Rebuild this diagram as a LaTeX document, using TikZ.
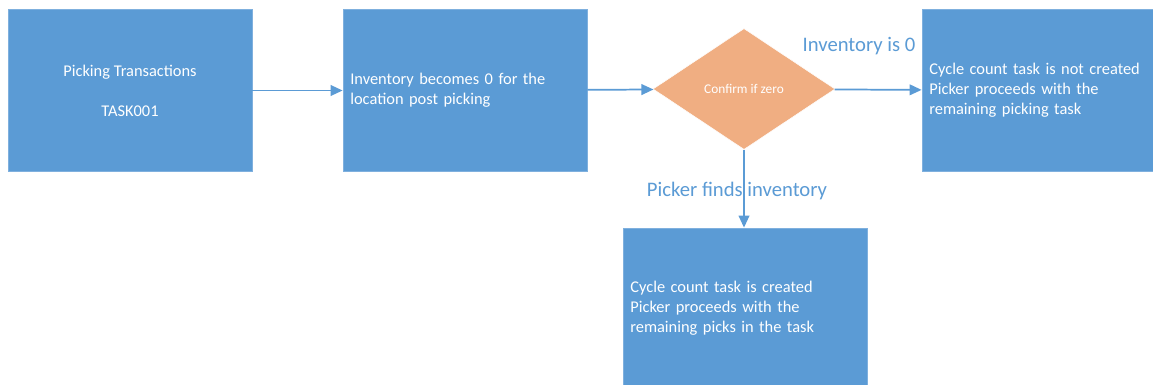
\documentclass[tikz,border=0pt]{standalone}
\usepackage{fontspec}
\setmainfont{Carlito}
\usepackage{xcolor}
\usetikzlibrary{positioning,arrows.meta,shapes.geometric}
\definecolor{boxblue}{HTML}{5B9BD5}
\definecolor{boxedge}{HTML}{7FB0DE}
\definecolor{decisionorange}{HTML}{F0AE82}
\definecolor{flowblue}{HTML}{5B9BD5}

\tikzset{
  taskbox/.style={draw=boxedge,line width=0.6pt,fill=boxblue,text=white,
    minimum width=183pt,minimum height=122pt,inner sep=5pt,font=\fontsize{12.3}{15}\selectfont},
  decision/.style={diamond,draw=white,fill=decisionorange,text=white,inner sep=0pt,
    minimum width=136.5pt,minimum height=90.75pt,font=\fontsize{10}{12}\selectfont},
  flow/.style={draw=flowblue,line width=1.3pt,-{Triangle[length=9pt,width=8pt]}},
  branchlabel/.style={text=flowblue,inner sep=0pt,font=\fontsize{15.5}{18}\selectfont}
}

\begin{document}
\begin{tikzpicture}[x=0.75pt,y=-0.75pt]
\useasboundingbox (0,0) rectangle (1153,385);
\fill[white] (0,0) rectangle (1153,385);

\node[taskbox,align=center] (pick) at (130,90.5) {Picking Transactions\\[15pt]TASK001};
\node[taskbox,text width=172pt,align=left] (zero) at (465,90.5)
  {Inventory becomes 0 for the\\location post picking};
\node[decision] (confirm) at (744,89) {Confirm if zero};
\node[taskbox,text width=172pt,align=left] (nocount) at (1044,90.5)
  {Cycle count task is not created\\Picker proceeds with the\\remaining picking task};
\node[taskbox,text width=172pt,align=left,minimum height=120pt] (count) at (745,308)
  {Cycle count task is created\\Picker proceeds with the\\remaining picks in the task};

% branch labels
\node[branchlabel] (zerolbl) at (859,46) {Inventory is 0};
\node[branchlabel] (foundlbl) at (737,191) {Picker finds inventory};

\draw[flow] (pick) -- (zero);
\draw[flow] (zero) -- (confirm);
\draw[flow] (confirm) -- (nocount);
\draw[flow] (confirm.south) -- (confirm.south |- count.north);
\end{tikzpicture}
\end{document}
